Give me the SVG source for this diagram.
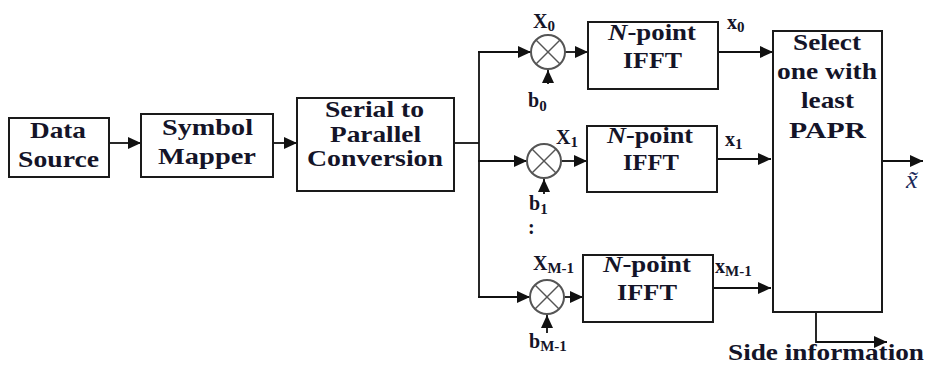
<svg xmlns="http://www.w3.org/2000/svg" width="928" height="365" viewBox="0 0 928 365">
<style>
.box{fill:#fff;stroke:#1a1a1a;stroke-width:2}
.mix{fill:#fff;stroke:#555;stroke-width:2}
.mx{stroke:#555;stroke-width:1.5}
.t{font-family:"Liberation Serif","DejaVu Serif",serif;font-weight:bold;font-size:23px;fill:#141428}
.l{font-family:"Liberation Serif","DejaVu Serif",serif;font-weight:bold;font-size:20px;fill:#141428}
.s{font-size:15px}
.c{fill:none;stroke:#111;stroke-width:1.8}
</style>
<defs>
<marker id="ah" markerUnits="userSpaceOnUse" markerWidth="14" markerHeight="12" refX="13" refY="6" orient="auto">
<path d="M0,0 L13,6 L0,12 Z" fill="#111"/>
</marker>
</defs>
<rect width="928" height="365" fill="#fff"/>

<g id="connectors">
<line class="c" x1="109" y1="143" x2="141" y2="143" marker-end="url(#ah)"/>
<line class="c" x1="273" y1="143" x2="297" y2="143" marker-end="url(#ah)"/>
<line class="c" x1="454" y1="143" x2="479" y2="143"/>
<line class="c" x1="479" y1="51" x2="479" y2="298"/>
<line class="c" x1="478" y1="52" x2="531" y2="52" marker-end="url(#ah)"/>
<line class="c" x1="478" y1="161" x2="527" y2="161" marker-end="url(#ah)"/>
<line class="c" x1="478" y1="297" x2="530" y2="297" marker-end="url(#ah)"/>
<line class="c" x1="565" y1="52" x2="588" y2="52" marker-end="url(#ah)"/>
<line class="c" x1="562" y1="161" x2="587" y2="161" marker-end="url(#ah)"/>
<line class="c" x1="565" y1="297" x2="583" y2="297" marker-end="url(#ah)"/>
<line class="c" x1="548" y1="84" x2="548" y2="70" marker-end="url(#ah)"/>
<line class="c" x1="544" y1="194" x2="544" y2="179" marker-end="url(#ah)"/>
<line class="c" x1="547" y1="333" x2="547" y2="315" marker-end="url(#ah)"/>
<line class="c" x1="718" y1="52" x2="773" y2="52" marker-end="url(#ah)"/>
<line class="c" x1="717" y1="159" x2="771" y2="159" marker-end="url(#ah)"/>
<line class="c" x1="713" y1="288" x2="771" y2="288" marker-end="url(#ah)"/>
<line class="c" x1="882" y1="161" x2="923" y2="161" marker-end="url(#ah)"/>
<path class="c" d="M816,312 V342 H887" marker-end="url(#ah)"/>
</g>

<g id="data-source">
<rect class="box" x="9" y="118" width="100" height="59"/>
<text class="t" x="30" y="138" textLength="56" lengthAdjust="spacingAndGlyphs">Data</text>
<text class="t" x="18" y="167" textLength="81" lengthAdjust="spacingAndGlyphs">Source</text>
</g>

<g id="symbol-mapper">
<rect class="box" x="141" y="114" width="132" height="63"/>
<text class="t" x="162" y="135" textLength="91" lengthAdjust="spacingAndGlyphs">Symbol</text>
<text class="t" x="158" y="164" textLength="98" lengthAdjust="spacingAndGlyphs">Mapper</text>
</g>

<g id="serial-parallel">
<rect class="box" x="297" y="98" width="157" height="93"/>
<text class="t" x="325" y="117" textLength="99" lengthAdjust="spacingAndGlyphs">Serial to</text>
<text class="t" x="330" y="142" textLength="91" lengthAdjust="spacingAndGlyphs">Parallel</text>
<text class="t" x="307" y="166" textLength="136" lengthAdjust="spacingAndGlyphs">Conversion</text>
</g>

<g id="mixer-0">
<circle class="mix" cx="548" cy="52" r="17"/>
<line class="mx" x1="536" y1="40" x2="560" y2="64"/>
<line class="mx" x1="560" y1="40" x2="536" y2="64"/>
<text class="l" x="533" y="28">X<tspan class="s" dy="3">0</tspan></text>
<text class="l" x="528" y="107">b<tspan class="s" dy="4">0</tspan></text>
</g>

<g id="mixer-1">
<circle class="mix" cx="544" cy="161" r="17"/>
<line class="mx" x1="532" y1="149" x2="556" y2="173"/>
<line class="mx" x1="556" y1="149" x2="532" y2="173"/>
<text class="l" x="556" y="144">X<tspan class="s" dy="3">1</tspan></text>
<text class="l" x="529" y="210">b<tspan class="s" dy="4">1</tspan></text>
<text class="l" x="528" y="234">:</text>
</g>

<g id="mixer-m">
<circle class="mix" cx="547" cy="297" r="17"/>
<line class="mx" x1="535" y1="285" x2="559" y2="309"/>
<line class="mx" x1="559" y1="285" x2="535" y2="309"/>
<text class="l" x="533" y="270">X<tspan class="s" dy="3">M-1</tspan></text>
<text class="l" x="529" y="348">b<tspan class="s" dy="3">M-1</tspan></text>
</g>

<g id="ifft-0">
<rect class="box" x="588" y="22" width="130" height="67"/>
<text class="t" x="608" y="40" textLength="88" lengthAdjust="spacingAndGlyphs"><tspan font-style="italic">N</tspan>-point</text>
<text class="t" x="623" y="68" textLength="59" lengthAdjust="spacingAndGlyphs">IFFT</text>
<text class="l" x="727" y="29">x<tspan class="s" dy="3">0</tspan></text>
</g>

<g id="ifft-1">
<rect class="box" x="587" y="126" width="130" height="66"/>
<text class="t" x="607" y="143" textLength="86" lengthAdjust="spacingAndGlyphs"><tspan font-style="italic">N</tspan>-point</text>
<text class="t" x="623" y="170" textLength="56" lengthAdjust="spacingAndGlyphs">IFFT</text>
<text class="l" x="725" y="146">x<tspan class="s" dy="3">1</tspan></text>
</g>

<g id="ifft-m">
<rect class="box" x="583" y="255" width="130" height="67"/>
<text class="t" x="603" y="272" textLength="88" lengthAdjust="spacingAndGlyphs"><tspan font-style="italic">N</tspan>-point</text>
<text class="t" x="617" y="300" textLength="60" lengthAdjust="spacingAndGlyphs">IFFT</text>
<text class="l" x="715" y="273">x<tspan class="s" dy="3">M-1</tspan></text>
</g>

<g id="selector">
<rect class="box" x="773" y="31" width="109" height="281"/>
<text class="t" x="793" y="50" textLength="68" lengthAdjust="spacingAndGlyphs">Select</text>
<text class="t" x="777" y="79" textLength="100" lengthAdjust="spacingAndGlyphs">one with</text>
<text class="t" x="801" y="108" textLength="53" lengthAdjust="spacingAndGlyphs">least</text>
<text class="t" x="789" y="138" textLength="77" lengthAdjust="spacingAndGlyphs">PAPR</text>
<text x="906" y="188" font-family="Liberation Serif, serif" font-style="italic" font-size="26" fill="#1a2a5a">x̃</text>
<text class="t" x="728" y="360" font-size="19.5" textLength="196" lengthAdjust="spacingAndGlyphs">Side information</text>
</g>
</svg>
